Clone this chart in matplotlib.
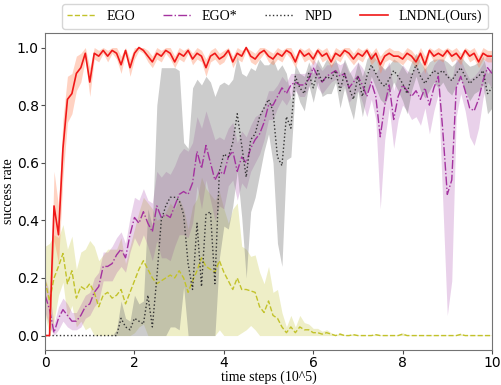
import matplotlib
matplotlib.use('Agg')
import matplotlib.pyplot as plt
import numpy as np

# time steps (x 10^5), one point every 0.1
steps = np.round(np.arange(0, 10.01, 0.1), 1)

ego_mean = [0.19, 0.12, 0.2, 0.24, 0.285, 0.18, 0.225, 0.13, 0.17, 0.16,
            0.18, 0.15, 0.1, 0.14, 0.15, 0.13, 0.14, 0.16, 0.11, 0.15,
            0.19, 0.23, 0.26, 0.23, 0.2, 0.18, 0.19, 0.2, 0.21, 0.2,
            0.225, 0.2, 0.15, 0.19, 0.225, 0.27, 0.24, 0.23, 0.22, 0.26,
            0.22, 0.19, 0.16, 0.2, 0.16, 0.16, 0.155, 0.15, 0.1, 0.08,
            0.12, 0.07, 0.06, 0.03, 0.01, 0.03, 0.01, 0.03, 0.02, 0.02,
            0.01, 0.01, 0.005, 0.01, 0.005, 0.0, 0.005, 0.0, 0.0, 0.003,
            0.0, 0.0, 0.0, 0.0, 0.003, 0.0, 0.0, 0.0, 0.0, 0.0,
            0.005, 0.0, 0.0, 0.0, 0.0, 0.0, 0.0, 0.0, 0.0, 0.0,
            0.0, 0.0, 0.0, 0.004, 0.0, 0.0, 0.0, 0.0, 0.0, 0.0,
            0.0]
ego_std = [0.12, 0.2, 0.15, 0.1, 0.1, 0.12, 0.12, 0.1, 0.12, 0.14,
           0.15, 0.16, 0.16, 0.14, 0.15, 0.17, 0.16, 0.18, 0.14, 0.16,
           0.18, 0.2, 0.22, 0.23, 0.24, 0.22, 0.22, 0.23, 0.25, 0.24,
           0.25, 0.24, 0.22, 0.26, 0.25, 0.28, 0.27, 0.26, 0.25, 0.24,
           0.22, 0.2, 0.28, 0.26, 0.15, 0.14, 0.12, 0.13, 0.12, 0.1,
           0.12, 0.08, 0.1, 0.05, 0.02, 0.04, 0.02, 0.04, 0.025, 0.02,
           0.015, 0.015, 0.01, 0.01, 0.005, 0.003, 0.005, 0.003, 0.003, 0.004,
           0.002, 0.002, 0.002, 0.002, 0.004, 0.002, 0.002, 0.002, 0.002, 0.002,
           0.005, 0.002, 0.002, 0.002, 0.002, 0.002, 0.002, 0.002, 0.002, 0.002,
           0.002, 0.002, 0.002, 0.004, 0.002, 0.002, 0.002, 0.002, 0.002, 0.002,
           0.002]

egos_mean = [0.14, 0.09, 0.01, 0.06, 0.09, 0.07, 0.05, 0.05, 0.07, 0.1,
             0.11, 0.15, 0.17, 0.24, 0.24, 0.25, 0.28, 0.3, 0.27, 0.35,
             0.41, 0.39, 0.43, 0.39, 0.36, 0.45, 0.41, 0.42, 0.41, 0.45,
             0.49, 0.5, 0.49, 0.53, 0.64, 0.58, 0.66, 0.6, 0.54, 0.57,
             0.56, 0.62, 0.64, 0.57, 0.62, 0.6, 0.65, 0.68, 0.7, 0.74,
             0.8, 0.8, 0.83, 0.86, 0.84, 0.87, 0.88, 0.87, 0.87, 0.89,
             0.93, 0.9, 0.88, 0.9, 0.91, 0.92, 0.9, 0.91, 0.86, 0.88,
             0.9, 0.87, 0.83, 0.88, 0.83, 0.69, 0.8, 0.87, 0.75, 0.83,
             0.87, 0.85, 0.83, 0.85, 0.82, 0.86, 0.8, 0.86, 0.9, 0.71,
             0.49, 0.54, 0.86, 0.9, 0.85, 0.79, 0.78, 0.82, 0.885, 0.93,
             0.91]
egos_std = [0.06, 0.06, 0.03, 0.04, 0.04, 0.04, 0.03, 0.03, 0.04, 0.04,
            0.04, 0.05, 0.05, 0.05, 0.05, 0.06, 0.06, 0.06, 0.05, 0.06,
            0.07, 0.08, 0.08, 0.08, 0.1, 0.12, 0.14, 0.15, 0.15, 0.14,
            0.14, 0.15, 0.15, 0.14, 0.12, 0.14, 0.12, 0.13, 0.14, 0.12,
            0.12, 0.1, 0.1, 0.1, 0.09, 0.09, 0.08, 0.08, 0.07, 0.06,
            0.05, 0.05, 0.04, 0.04, 0.04, 0.04, 0.03, 0.04, 0.04, 0.03,
            0.03, 0.04, 0.04, 0.04, 0.03, 0.03, 0.04, 0.04, 0.05, 0.05,
            0.05, 0.06, 0.07, 0.06, 0.08, 0.25, 0.12, 0.08, 0.1, 0.08,
            0.07, 0.07, 0.08, 0.09, 0.09, 0.07, 0.1, 0.08, 0.06, 0.25,
            0.42, 0.35, 0.1, 0.06, 0.07, 0.1, 0.12, 0.1, 0.06, 0.05,
            0.05]

npd_mean = [0.0] * 16 + [
    0.0, 0.06, 0.03, 0.02, 0.06, 0.05, 0.04, 0.14, 0.03,
    0.2, 0.4, 0.45, 0.48, 0.48, 0.47, 0.42, 0.25, 0.16, 0.39,
    0.17, 0.42, 0.43, 0.18, 0.57, 0.63, 0.62, 0.67, 0.77, 0.66,
    0.55, 0.68, 0.7, 0.76, 0.79, 0.82, 0.78, 0.62, 0.59, 0.76,
    0.72, 0.9, 0.86, 0.84, 0.91, 0.86, 0.92, 0.88, 0.9, 0.89,
    0.92, 0.85, 0.91, 0.86, 0.82, 0.9, 0.83, 0.9, 0.94, 0.91,
    0.88, 0.865, 0.89, 0.92, 0.9, 0.875, 0.84, 0.9, 0.94, 0.9,
    0.875, 0.9, 0.92, 0.91, 0.92, 0.9, 0.885, 0.91, 0.93, 0.9,
    0.875, 0.89, 0.9, 0.92, 0.84, 0.86]
npd_std = [0.0] * 16 + [
    0.02, 0.06, 0.03, 0.03, 0.08, 0.06, 0.08, 0.3, 0.35,
    0.6, 0.53, 0.48, 0.45, 0.45, 0.45, 0.25, 0.4, 0.7, 0.5,
    0.7, 0.48, 0.45, 0.65, 0.3, 0.25, 0.25, 0.22, 0.2, 0.25,
    0.35, 0.25, 0.22, 0.2, 0.15, 0.12, 0.18, 0.3, 0.35, 0.15,
    0.1, 0.04, 0.05, 0.06, 0.04, 0.05, 0.04, 0.05, 0.06, 0.05,
    0.04, 0.06, 0.05, 0.06, 0.07, 0.05, 0.07, 0.06, 0.04, 0.05,
    0.06, 0.06, 0.05, 0.04, 0.05, 0.06, 0.07, 0.05, 0.04, 0.05,
    0.05, 0.05, 0.04, 0.05, 0.04, 0.05, 0.05, 0.04, 0.04, 0.05,
    0.06, 0.05, 0.05, 0.05, 0.07, 0.07]

lndnl_mean = [0.0, 0.0, 0.45, 0.35, 0.65, 0.82, 0.84, 0.91, 0.93, 0.98,
              0.88, 0.98, 0.97, 0.99, 0.97, 0.99, 0.98, 0.94, 0.99, 0.93,
              0.98, 1.0, 0.99, 0.97, 0.95, 0.98, 0.97, 0.99, 0.98, 0.95,
              0.98, 0.97, 0.99, 0.96, 0.98, 0.97, 0.93, 0.97, 0.98, 0.96,
              0.97, 0.99, 0.95, 0.98, 0.97, 1.0, 0.97, 0.96, 0.98, 0.99,
              0.97, 0.96, 0.98, 0.97, 0.99, 0.98, 0.95, 0.99, 0.97, 0.98,
              0.96, 0.99, 0.97, 0.98, 0.95, 0.98, 0.97, 0.99, 0.98, 0.96,
              0.98, 0.97, 0.99, 0.96, 0.98, 0.94, 0.97, 0.98, 0.97, 0.97,
              0.96, 0.98, 0.97, 0.95, 0.98, 0.94, 0.99, 0.97, 0.98, 0.97,
              0.99, 0.97, 0.98, 0.96, 0.99, 0.97, 0.98, 0.95, 0.98, 0.97,
              0.97]
lndnl_std = [0.0, 0.0, 0.12, 0.1, 0.1, 0.08, 0.07, 0.06, 0.05, 0.02,
             0.05, 0.02, 0.02, 0.01, 0.02, 0.01, 0.02, 0.03, 0.01, 0.03,
             0.02, 0.01, 0.01, 0.02, 0.02, 0.02, 0.02, 0.01, 0.02, 0.02,
             0.02, 0.02, 0.01, 0.02, 0.02, 0.02, 0.03, 0.02, 0.02, 0.02,
             0.02, 0.01, 0.02, 0.02, 0.02, 0.01, 0.02, 0.02, 0.02, 0.01,
             0.02, 0.02, 0.02, 0.02, 0.01, 0.02, 0.02, 0.01, 0.02, 0.02,
             0.02, 0.01, 0.02, 0.02, 0.02, 0.02, 0.02, 0.01, 0.02, 0.02,
             0.02, 0.02, 0.01, 0.02, 0.02, 0.03, 0.02, 0.02, 0.02, 0.02,
             0.02, 0.02, 0.02, 0.02, 0.02, 0.03, 0.01, 0.02, 0.02, 0.02,
             0.01, 0.02, 0.02, 0.02, 0.01, 0.02, 0.02, 0.02, 0.02, 0.02,
             0.02]

serif = ['Liberation Serif', 'DejaVu Serif']

fig = plt.figure(figsize=(5.01, 3.85), dpi=100)
ax = fig.add_axes([0.09, 0.091, 0.892, 0.823])

# (label, mean, std, line colour, band colour, band alpha, linestyle, width)
series = [
    ('EGO', ego_mean, ego_std, '#c2c22a', '#bcbd22', 0.25, '--', 1.0),
    ('EGO*', egos_mean, egos_std, '#a4329f', '#9b30a0', 0.22, '-.', 1.0),
    ('NPD', npd_mean, npd_std, '#333333', '#808080', 0.4, ':', 1.0),
    ('LNDNL(Ours)', lndnl_mean, lndnl_std, '#f01818', '#ff7f50', 0.35, '-', 1.2),
]

for label, m, s, c, bc, ba, ls, lw in series:
    m = np.array(m)
    s = np.array(s)
    lo = np.clip(m - s, 0, 1)
    hi = np.clip(m + s, 0, 1)
    ax.fill_between(steps, lo, hi, color=bc, alpha=ba, linewidth=0)
    ax.plot(steps, m, color=c, linestyle=ls, linewidth=lw, label=label)

ax.set_xlim(0, 10)
ax.set_ylim(-0.05, 1.05)
ax.set_xticks([0, 2, 4, 6, 8, 10])
ax.set_yticks([0.0, 0.2, 0.4, 0.6, 0.8, 1.0])
ax.tick_params(labelsize=10, length=3, pad=1.5, color='0.3')
for sp in ax.spines.values():
    sp.set_color('0.45')
ax.set_xlabel('time steps (10^5)', family=serif, fontsize=10, labelpad=0)
ax.set_ylabel('success rate', family=serif, fontsize=10, labelpad=1)

ax.legend(loc='lower right', bbox_to_anchor=(1.0, 1.0), ncol=4,
          prop={'family': serif, 'size': 10}, borderaxespad=0.3,
          columnspacing=2.0, handlelength=2.0)

fig.savefig('out.png', dpi=100)
